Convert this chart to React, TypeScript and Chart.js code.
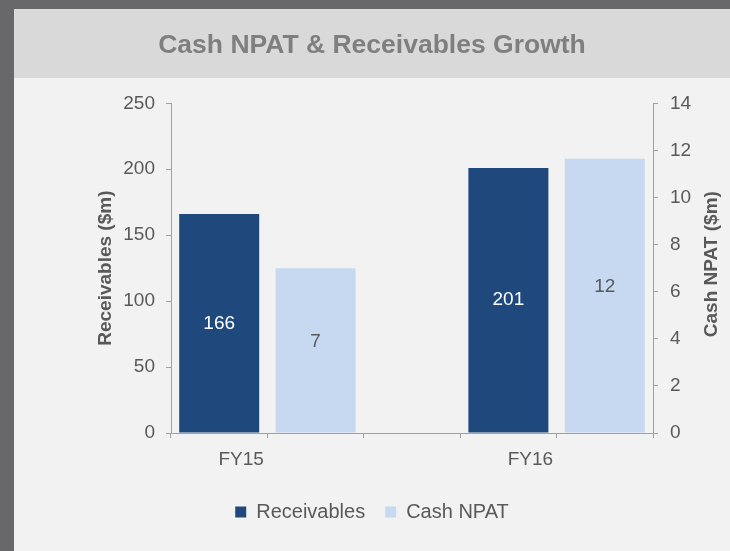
import React, { useEffect, useRef } from 'react';
import { Chart, registerables } from 'chart.js';

Chart.register(...registerables);

const chartTitle = 'Cash NPAT & Receivables Growth';
const categories = ['FY15', '', '', 'FY16', ''];
const receivables = [166, null, null, 201, null];
const cashNpat = [null, 7, null, null, 11.65];
const leftAxisTitle = 'Receivables ($m)';
const rightAxisTitle = 'Cash NPAT ($m)';
const leftMax = 250;
const leftStep = 50;
const rightMax = 14;
const rightStep = 2;

const FONT = '"Liberation Sans", Arial, sans-serif';
const TEXT = '#595959';
const AXIS = '#a0a0a0';
const DARK = '#1f497d';
const LIGHT = '#c6d9f1';

const backgroundPlugin = {
  id: 'bgPanels',
  beforeDraw(chart: any) {
    const { ctx, width, height } = chart;
    ctx.save();
    ctx.fillStyle = '#f2f2f2';
    ctx.fillRect(0, 0, width, height);
    ctx.fillStyle = '#d9d9d9';
    ctx.fillRect(14, 9, width - 14, 69);
    ctx.fillStyle = '#68686a';
    ctx.fillRect(0, 0, width, 9);
    ctx.fillRect(0, 0, 14, height);
    ctx.restore();
  },
};

// Right axis title reads bottom-to-top (like the left one)
const rightTitlePlugin = {
  id: 'rightTitle',
  afterDraw(chart: any) {
    const { ctx, chartArea } = chart;
    const scale = chart.scales.y1;
    ctx.save();
    ctx.font = `bold 19px ${FONT}`;
    ctx.fillStyle = TEXT;
    ctx.textAlign = 'center';
    ctx.textBaseline = 'middle';
    ctx.translate(scale.right - 18, (chartArea.top + chartArea.bottom) / 2 - 4);
    ctx.rotate(-Math.PI / 2);
    ctx.fillText(rightAxisTitle, 0, 0);
    ctx.restore();
  },
};

const valueLabelPlugin = {
  id: 'valueLabels',
  afterDatasetsDraw(chart: any) {
    const { ctx } = chart;
    ctx.save();
    ctx.font = `19px ${FONT}`;
    ctx.textAlign = 'center';
    ctx.textBaseline = 'middle';
    chart.data.datasets.forEach((ds: any, di: number) => {
      const meta = chart.getDatasetMeta(di);
      meta.data.forEach((el: any, i: number) => {
        const v = ds.data[i];
        if (v === null || v === undefined) return;
        const props = el.getProps(['x', 'y', 'base'], true);
        const cy = (props.y + props.base) / 2 + (di === 1 ? -9 : 0);
        ctx.fillStyle = di === 0 ? '#ffffff' : TEXT;
        ctx.fillText(String(Math.round(v)), props.x, cy);
      });
    });
    ctx.restore();
  },
};

export default function App() {
  const ref = useRef<HTMLCanvasElement | null>(null);

  useEffect(() => {
    if (!ref.current) return;
    Chart.defaults.font.family = FONT;
    const chart = new Chart(ref.current, {
      type: 'bar',
      data: {
        labels: categories,
        datasets: [
          {
            label: 'Receivables',
            data: receivables,
            backgroundColor: DARK,
            yAxisID: 'y',
          },
          {
            label: 'Cash NPAT',
            data: cashNpat,
            backgroundColor: LIGHT,
            yAxisID: 'y1',
          },
        ],
      },
      options: {
        responsive: false,
        animation: false,
        devicePixelRatio: 1,
        layout: { padding: { left: 14, top: 9, right: 0, bottom: 19 } },
        datasets: {
          bar: {
            grouped: false,
            categoryPercentage: 1,
            barPercentage: 0.83,
          },
        },
        plugins: {
          title: {
            display: true,
            text: chartTitle,
            color: '#7f7f7f',
            font: { size: 26.5, weight: 'bold', family: FONT },
            padding: { top: 21, bottom: 41.5 },
          },
          legend: {
            position: 'bottom',
            labels: {
              boxWidth: 11,
              boxHeight: 11,
              padding: 20,
              color: TEXT,
              font: { size: 20, family: FONT },
            },
          },
          tooltip: { enabled: false },
        },
        scales: {
          x: {
            grid: {
              display: true,
              drawOnChartArea: false,
              drawTicks: true,
              tickLength: 5,
              color: AXIS,
              offset: true,
            },
            border: { display: true, color: AXIS },
            ticks: {
              color: TEXT,
              font: { size: 19, family: FONT },
              padding: 10,
              labelOffset: 22,
              maxRotation: 0,
              autoSkip: false,
            },
            afterFit(scale: any) {
              scale.height = 49;
            },
          },
          y: {
            position: 'left',
            min: 0,
            max: leftMax,
            ticks: {
              stepSize: leftStep,
              color: TEXT,
              font: { size: 19, family: FONT },
              padding: 11,
            },
            grid: {
              display: true,
              drawOnChartArea: false,
              drawTicks: true,
              tickLength: 5,
              color: AXIS,
            },
            border: { display: true, color: AXIS },
            title: {
              display: true,
              text: leftAxisTitle,
              color: TEXT,
              font: { size: 19, weight: 'bold', family: FONT },
              padding: { top: 80.6, bottom: 0 },
            },
            afterFit(scale: any) {
              scale.width = 157;
            },
          },
          y1: {
            position: 'right',
            min: 0,
            max: rightMax,
            ticks: {
              stepSize: rightStep,
              color: TEXT,
              font: { size: 19, family: FONT },
              padding: 12,
            },
            grid: {
              display: true,
              drawOnChartArea: false,
              drawTicks: true,
              tickLength: 5,
              color: AXIS,
            },
            border: { display: true, color: AXIS },
            title: { display: false },
            afterFit(scale: any) {
              scale.width = 77;
            },
          },
        },
      } as any,
      plugins: [backgroundPlugin, valueLabelPlugin, rightTitlePlugin],
    });
    return () => chart.destroy();
  }, []);

  return (
    <div style={{ position: 'absolute', left: 0, top: 0, width: 730, height: 551 }}>
      <canvas ref={ref} width={730} height={551} style={{ width: 730, height: 551, display: 'block' }} />
    </div>
  );
}
